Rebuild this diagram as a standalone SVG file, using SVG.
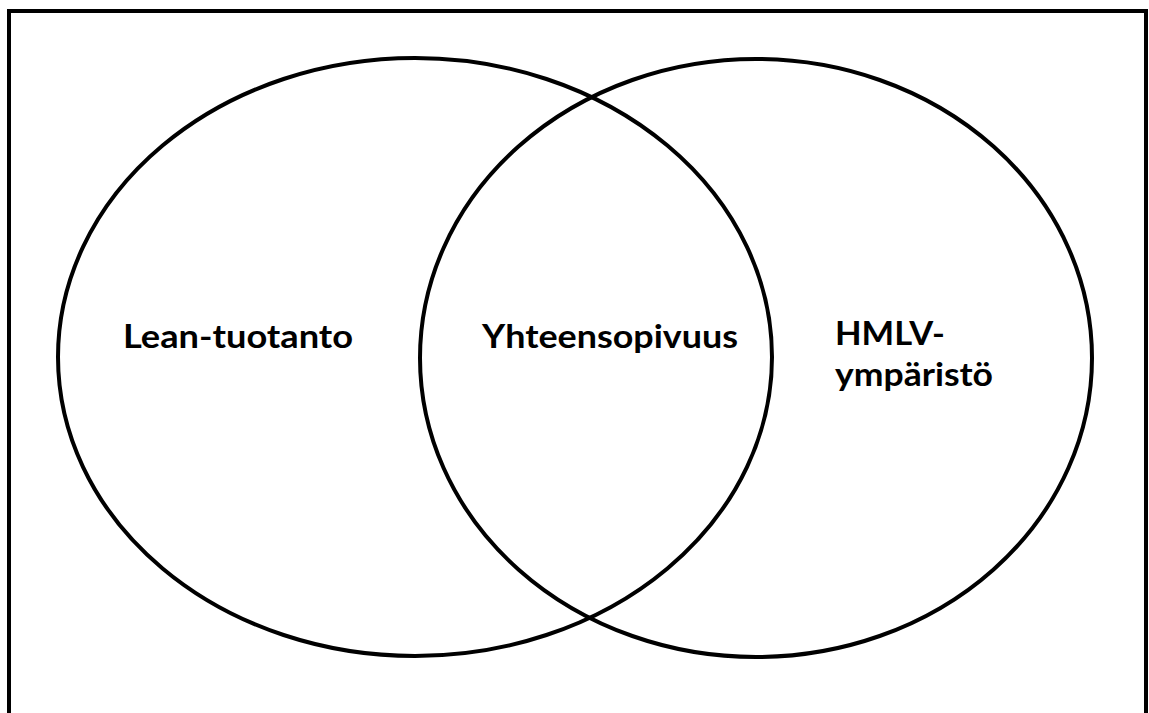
<svg xmlns="http://www.w3.org/2000/svg" width="1149" height="713" viewBox="0 0 1149 713">
<style>
.c{fill:none;stroke:#000;stroke-width:4}
.t{font-family:Lato,"Open Sans",sans-serif;font-weight:bold;font-size:33px;fill:#000}
</style>
<rect x="0" y="0" width="1149" height="713" fill="#fff"/>
<rect x="9" y="11" width="1137" height="710" fill="none" stroke="#000" stroke-width="4"/>
<g id="lean">
<ellipse class="c" cx="415" cy="357" rx="357" ry="299"/>
<text class="t" x="123" y="348" textLength="230" lengthAdjust="spacingAndGlyphs">Lean-tuotanto</text>
</g>
<g id="hmlv">
<ellipse class="c" cx="756" cy="358" rx="336" ry="299"/>
<text class="t" x="835" y="345" textLength="110" lengthAdjust="spacingAndGlyphs">HMLV-</text>
<text class="t" x="835" y="386" textLength="158" lengthAdjust="spacingAndGlyphs">ympäristö</text>
</g>
<g id="yhteensopivuus">
<text class="t" x="482" y="348" textLength="256" lengthAdjust="spacingAndGlyphs">Yhteensopivuus</text>
</g>
<g id="connectors"/>
</svg>
